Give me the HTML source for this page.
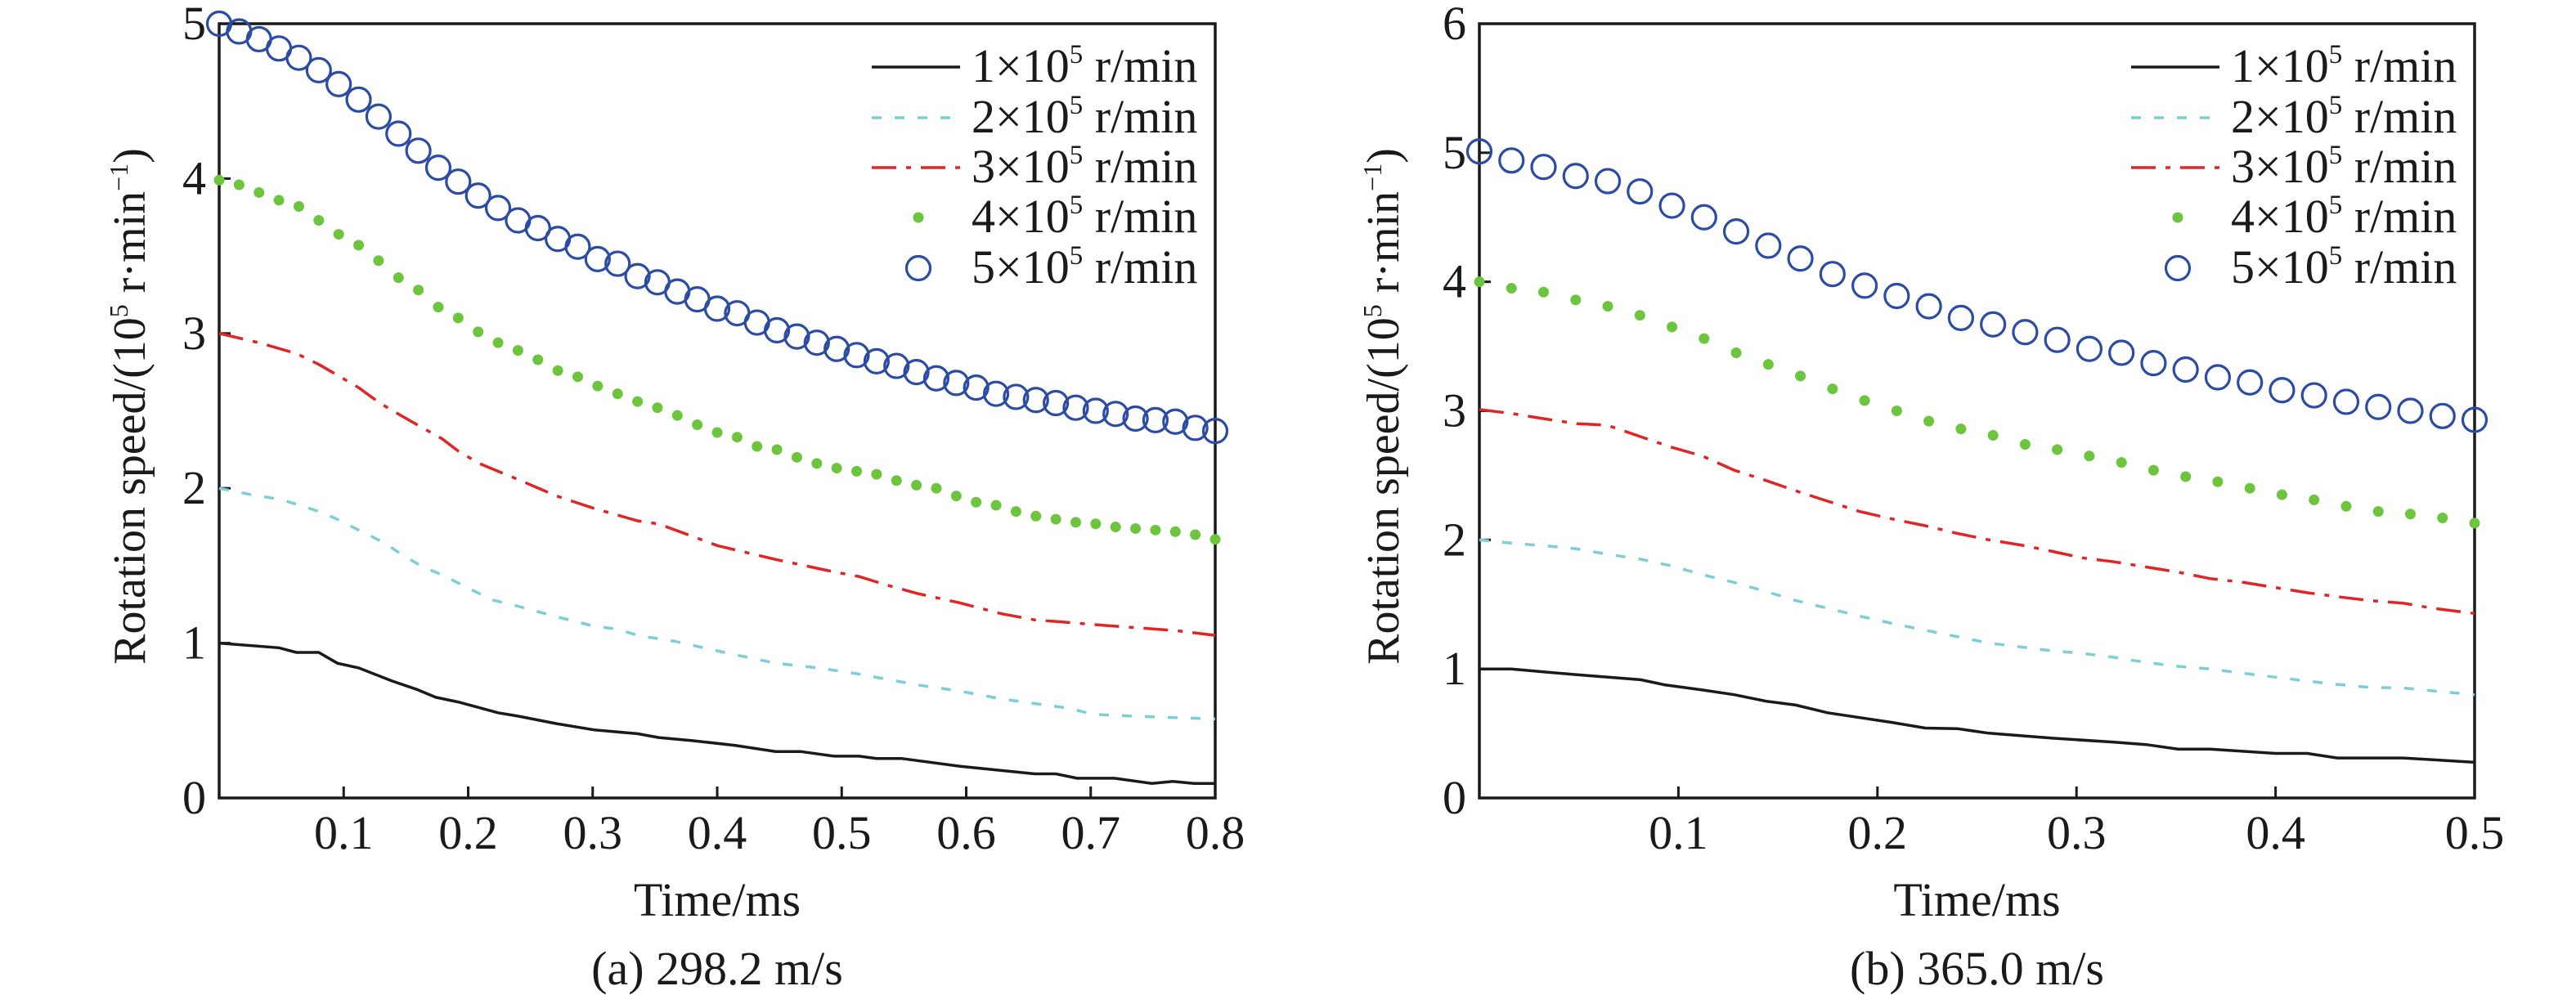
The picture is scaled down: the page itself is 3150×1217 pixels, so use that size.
<!DOCTYPE html>
<html><head><meta charset="utf-8"><style>
html,body{margin:0;padding:0;background:#fff}
svg{display:block}
text{font-family:"Liberation Serif",serif;fill:#1a1a1a}
</style></head><body>
<svg id="chart" width="3150" height="1217" viewBox="0 0 3150 1217" xmlns="http://www.w3.org/2000/svg"></svg>
<script>
// ---------- Panel A data (298.2 m/s) ----------
const aCircleY=[5.00,4.95,4.90,4.84,4.78,4.70,4.61,4.51,4.40,4.29,4.18,4.07,3.98,3.89,3.81,3.73,3.68,3.61,3.56,3.48,3.45,3.37,3.33,3.27,3.22,3.16,3.13,3.07,3.02,2.98,2.94,2.90,2.86,2.82,2.79,2.75,2.71,2.68,2.65,2.61,2.59,2.57,2.55,2.52,2.50,2.48,2.45,2.44,2.43,2.39,2.37];
const aDotY=[3.99,3.96,3.91,3.86,3.82,3.73,3.64,3.57,3.47,3.36,3.28,3.17,3.10,3.01,2.94,2.89,2.83,2.76,2.72,2.66,2.61,2.56,2.52,2.47,2.41,2.36,2.33,2.27,2.25,2.20,2.16,2.13,2.11,2.09,2.05,2.02,2.00,1.95,1.91,1.89,1.85,1.82,1.80,1.78,1.77,1.75,1.74,1.73,1.72,1.70,1.67];
const aBlackT=[0,.048,.062,.080,.095,.112,.139,.159,.174,.192,.224,.239,.271,.301,.336,.353,.380,.414,.447,.467,.494,.514,.528,.548,.595,.655,.672,.689,.719,.749,.766,.783,.800];
const aBlackY=[1.00,.97,.94,.94,.87,.84,.755,.70,.65,.62,.55,.53,.48,.44,.415,.39,.37,.34,.30,.30,.27,.27,.255,.255,.205,.156,.156,.127,.127,.094,.107,.094,.094];
const aRedT=[0,.032,.062,.080,.095,.112,.129,.146,.159,.179,.192,.209,.239,.271,.301,.336,.353,.380,.400,.447,.494,.514,.534,.561,.595,.628,.655,.672,.702,.736,.769,.800];
const aRedY=[3.00,2.94,2.87,2.80,2.73,2.65,2.55,2.47,2.41,2.32,2.24,2.16,2.06,1.95,1.87,1.79,1.77,1.69,1.63,1.54,1.46,1.43,1.38,1.32,1.26,1.19,1.15,1.14,1.12,1.10,1.08,1.05];
const aCyanT=[0,.025,.048,.065,.080,.095,.112,.132,.149,.162,.179,.199,.219,.239,.271,.301,.320,.336,.367,.400,.447,.481,.514,.534,.561,.595,.628,.655,.682,.702,.729,.762,.800];
const aCyanY=[2.00,1.96,1.93,1.89,1.85,1.80,1.73,1.65,1.56,1.50,1.44,1.36,1.28,1.24,1.17,1.11,1.09,1.05,1.01,.95,.87,.84,.80,.77,.73,.69,.64,.61,.58,.54,.53,.52,.51];
const aXTicks=["0.1","0.2","0.3","0.4","0.5","0.6","0.7","0.8"];
const aYTicks=["0","1","2","3","4","5"];
// ---------- Panel B data (365.0 m/s) ----------
const bCircleY=[5.01,4.94,4.89,4.82,4.78,4.70,4.59,4.50,4.39,4.28,4.18,4.06,3.97,3.89,3.81,3.72,3.67,3.61,3.55,3.48,3.45,3.37,3.32,3.26,3.22,3.16,3.12,3.07,3.03,3.00,2.96,2.93];
const bDotY=[4.00,3.95,3.92,3.86,3.81,3.74,3.65,3.56,3.45,3.36,3.27,3.17,3.08,3.00,2.92,2.86,2.81,2.74,2.70,2.65,2.60,2.54,2.49,2.45,2.40,2.35,2.31,2.26,2.22,2.20,2.17,2.13];
const bBlackT=[0,.016,.049,.081,.093,.112,.128,.144,.159,.175,.207,.224,.240,.256,.288,.319,.335,.351,.367,.400,.416,.431,.464,.479,.500];
const bBlackY=[1.00,1.00,.955,.916,.877,.837,.80,.75,.72,.66,.586,.542,.537,.502,.463,.433,.414,.379,.379,.345,.345,.310,.310,.296,.276];
const bRedT=[0,.016,.032,.049,.064,.081,.096,.112,.128,.144,.159,.175,.191,.208,.224,.240,.256,.272,.288,.303,.319,.335,.351,.367,.384,.400,.416,.431,.447,.464,.479,.500];
const bRedY=[3.01,2.98,2.94,2.90,2.89,2.80,2.72,2.65,2.54,2.46,2.38,2.30,2.22,2.16,2.11,2.05,2.00,1.96,1.91,1.86,1.83,1.79,1.75,1.70,1.67,1.63,1.59,1.56,1.53,1.51,1.47,1.43];
const bCyanT=[0,.016,.036,.049,.064,.081,.096,.112,.128,.144,.159,.175,.191,.208,.224,.240,.256,.272,.288,.303,.319,.335,.351,.367,.384,.400,.416,.431,.447,.464,.479,.500];
const bCyanY=[2.00,1.975,1.95,1.93,1.89,1.85,1.80,1.73,1.67,1.60,1.53,1.47,1.41,1.35,1.30,1.25,1.20,1.17,1.14,1.12,1.09,1.05,1.02,1.00,.966,.936,.906,.88,.857,.852,.83,.80];
const bXTicks=["0.1","0.2","0.3","0.4","0.5"];
const bYTicks=["0","1","2","3","4","5","6"];
const legendLabels=["1","2","3","4","5"];

const NS="http://www.w3.org/2000/svg";
const svg=document.getElementById('chart');
function mk(tag,attrs,parent){const e=document.createElementNS(NS,tag);for(const k in attrs)e.setAttribute(k,attrs[k]);(parent||svg).appendChild(e);return e;}

function panel(cfg){
  const g=mk('g',{});
  
  
  const L=cfg.L,R=cfg.R,T=29,B=976;
  const xs=v=>L+(v/cfg.xmax)*(R-L);
  const ys=v=>B-(v/cfg.ymax)*(B-T);
  const frame=mk('rect',{x:L,y:T,width:R-L,height:B-T,fill:'none',stroke:'#1a1a1a','stroke-width':3.5},g);
  
  
  cfg.xTicks.forEach(lab=>{
    const v=parseFloat(lab),x=xs(v);
    const t=mk('line',{x1:x,y1:B,x2:x,y2:B-14,stroke:'#1a1a1a','stroke-width':3},g);
    
    
    const tx=mk('text',{x:x,y:1038,'font-size':58,'text-anchor':'middle'},g);tx.textContent=lab;
    
    
  });
  cfg.yTicks.forEach(lab=>{
    const v=parseFloat(lab),y=ys(v);
    if(v>0&&v<cfg.ymax){const t=mk('line',{x1:L,y1:y,x2:L+14,y2:y,stroke:'#1a1a1a','stroke-width':3},g);
      
      }
    const tx=mk('text',{x:L-16,y:y+19,'font-size':58,'text-anchor':'end'},g);tx.textContent=lab;
    
    
  });
  const line=(T_,Y_,color,dash,nm)=>{
    const d=T_.map((t,i)=>(i?'L':'M')+xs(t).toFixed(1)+' '+ys(Y_[i]).toFixed(1)).join(' ');
    const p=mk('path',{d:d,fill:'none',stroke:color,'stroke-width':3.5,'stroke-dasharray':dash},g);
    
    
  };
  line(cfg.blackT,cfg.blackY,'#1a1a1a','none','series-1e5');
  line(cfg.cyanT,cfg.cyanY,'#7ccfd6','12 16','series-2e5');
  line(cfg.redT,cfg.redY,'#e02525','30 12 6 12','series-3e5');
  const n1=cfg.dotY.length;
  cfg.dotY.forEach((v,i)=>{
    const c=mk('circle',{cx:xs(cfg.xmax*i/(n1-1)),cy:ys(v),r:6.5,fill:'#6cc53c'},g);
    
    
  });
  const n2=cfg.circleY.length;
  cfg.circleY.forEach((v,i)=>{
    const c=mk('circle',{cx:xs(cfg.xmax*i/(n2-1)),cy:ys(v),r:14.5,fill:'none',stroke:'#2c4ca3','stroke-width':3.2},g);
    
    
  });
  const lg=mk('g',{},g);
  
  
  const rows=[100,162,223,284,346];
  legendLabels.forEach((lab,i)=>{
    const cy=rows[i]-18;
    const x1=cfg.lgx,x2=cfg.lgx+108,xm=cfg.lgx+57;
    if(i===0) mk('line',{x1:x1,y1:cy,x2:x2,y2:cy,stroke:'#1a1a1a','stroke-width':3.5},lg);
    if(i===1) mk('line',{x1:x1,y1:cy,x2:x2,y2:cy,stroke:'#7ccfd6','stroke-width':3.5,'stroke-dasharray':'12 16'},lg);
    if(i===2) mk('line',{x1:x1,y1:cy,x2:x2,y2:cy,stroke:'#e02525','stroke-width':3.5,'stroke-dasharray':'30 12 6 12'},lg);
    if(i===3) mk('circle',{cx:xm,cy:cy,r:6.5,fill:'#6cc53c'},lg);
    if(i===4) mk('circle',{cx:xm,cy:cy,r:14.5,fill:'none',stroke:'#2c4ca3','stroke-width':3.2},lg);
    const tx=mk('text',{x:cfg.lgx+122,y:rows[i],'font-size':58},lg);
    tx.innerHTML=lab+'×10<tspan dy="-23" font-size="33">5</tspan><tspan dy="23"> r/min</tspan>';
    
    
  });
  const yt=mk('text',{x:0,y:0,'font-size':56,'text-anchor':'middle',transform:`translate(${cfg.ytx},497) rotate(-90)`},g);
  yt.innerHTML='Rotation speed/(10<tspan dy="-21" font-size="32">5</tspan><tspan dy="21"> r·min</tspan><tspan dy="-21" font-size="32">−1</tspan><tspan dy="21">)</tspan>';
  
  
  const xt=mk('text',{x:(L+R)/2,y:1120,'font-size':58,'text-anchor':'middle'},g);xt.textContent='Time/ms';
  
  
  const cap=mk('text',{x:(L+R)/2,y:1204,'font-size':58,'text-anchor':'middle'},g);cap.textContent=cfg.caption;
  
  
}
panel({name:'panel-a',L:268,R:1486,xmax:0.8,ymax:5,xTicks:aXTicks,yTicks:aYTicks,blackT:aBlackT,blackY:aBlackY,redT:aRedT,redY:aRedY,cyanT:aCyanT,cyanY:aCyanY,dotY:aDotY,circleY:aCircleY,lgx:1066,ytx:177,caption:'(a) 298.2 m/s'});
panel({name:'panel-b',L:1809,R:3026,xmax:0.5,ymax:6,xTicks:bXTicks,yTicks:bYTicks,blackT:bBlackT,blackY:bBlackY,redT:bRedT,redY:bRedY,cyanT:bCyanT,cyanY:bCyanY,dotY:bDotY,circleY:bCircleY,lgx:2606,ytx:1710,caption:'(b) 365.0 m/s'});
</script>
</body></html>
